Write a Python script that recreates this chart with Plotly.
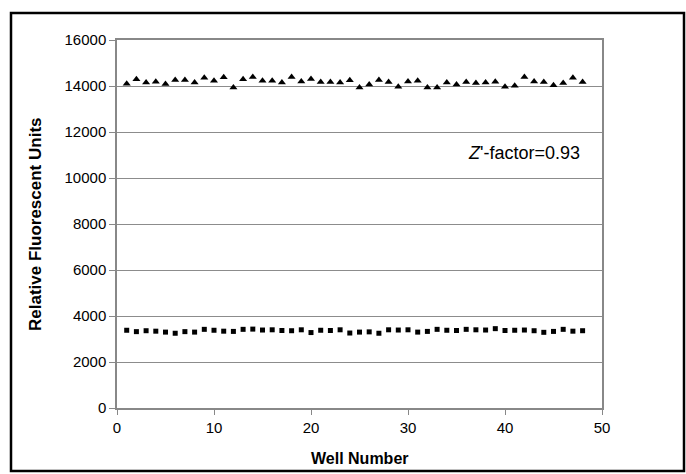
import plotly.graph_objects as go

wells = list(range(1, 49))
high_signal = [14100, 14290, 14150, 14190, 14090, 14260, 14260, 14150, 14360, 14230,
               14380, 13940, 14290, 14390, 14230, 14230, 14150, 14390, 14200, 14300,
               14170, 14170, 14150, 14250, 13930, 14060, 14260, 14170, 13970, 14200,
               14230, 13930, 13940, 14150, 14060, 14170, 14130, 14150, 14190, 13970,
               14010, 14390, 14200, 14170, 14030, 14130, 14360, 14170]
low_signal = [3380, 3320, 3360, 3340, 3300, 3250, 3320, 3300, 3420, 3380,
              3340, 3330, 3420, 3430, 3390, 3400, 3370, 3360, 3400, 3280,
              3380, 3370, 3400, 3260, 3300, 3310, 3250, 3400, 3390, 3400,
              3300, 3330, 3420, 3380, 3370, 3420, 3400, 3390, 3450, 3370,
              3380, 3390, 3360, 3290, 3330, 3420, 3340, 3360]
y_ticks = [0, 2000, 4000, 6000, 8000, 10000, 12000, 14000, 16000]
y_tick_labels = ["0", "2000", "4000", "6000", "8000", "10000", "12000", "14000", "16000"]
x_ticks = [0, 10, 20, 30, 40, 50]
x_tick_labels = ["0", "10", "20", "30", "40", "50"]

FONT = "Liberation Sans, Arial, sans-serif"

# plot area in pixels: x 117..602, y 40..408
L, R, T, B = 117, 602, 40, 408
PW, PH = R - L, B - T


def px(xp):
    return (xp - L) / PW


def py(yp):
    return (B - yp) / PH


fig = go.Figure()
fig.add_trace(go.Scatter(x=wells, y=high_signal, mode="markers",
                         marker=dict(symbol="triangle-up", size=7, color="black"),
                         showlegend=False))
fig.add_trace(go.Scatter(x=wells, y=low_signal, mode="markers",
                         marker=dict(symbol="square", size=5, color="black"),
                         showlegend=False))

fig.update_layout(
    width=686, height=474,
    margin=dict(l=L, r=686 - R, t=T, b=474 - B),
    paper_bgcolor="white", plot_bgcolor="white",
    font=dict(family=FONT, size=15, color="black"),
    xaxis=dict(range=[0, 50], tickvals=x_ticks, ticktext=x_tick_labels,
               showgrid=False, zeroline=False,
               showline=True, linecolor="#888888", linewidth=1.5, mirror=True,
               ticks="outside", ticklen=5, tickcolor="#888888",
               tickfont=dict(size=15)),
    yaxis=dict(range=[0, 16000], tickvals=y_ticks, ticktext=y_tick_labels,
               showgrid=True, gridcolor="#8c8c8c",
               gridwidth=1, zeroline=False, showline=True, linecolor="#888888",
               linewidth=1.5, mirror=True, ticks="outside", ticklen=6,
               tickcolor="#888888", tickfont=dict(size=15)),
    annotations=[
        dict(x=42, y=11100, xref="x", yref="y", text="<i>Z</i>'-factor=0.93",
             showarrow=False, font=dict(size=18)),
        dict(x=0.5, y=py(458), xref="paper", yref="paper", text="<b>Well Number</b>",
             showarrow=False, font=dict(size=16), yanchor="middle"),
        dict(x=px(35), y=py(224), xref="paper", yref="paper",
             text="<b>Relative Fluorescent Units</b>", textangle=-90,
             showarrow=False, font=dict(size=17), xanchor="center", yanchor="middle"),
    ],
    shapes=[
        dict(type="rect", xref="paper", yref="paper", x0=px(11), y0=py(471),
             x1=px(684), y1=py(13), line=dict(color="black", width=2.5)),
    ],
)

fig.write_html("out.html")
